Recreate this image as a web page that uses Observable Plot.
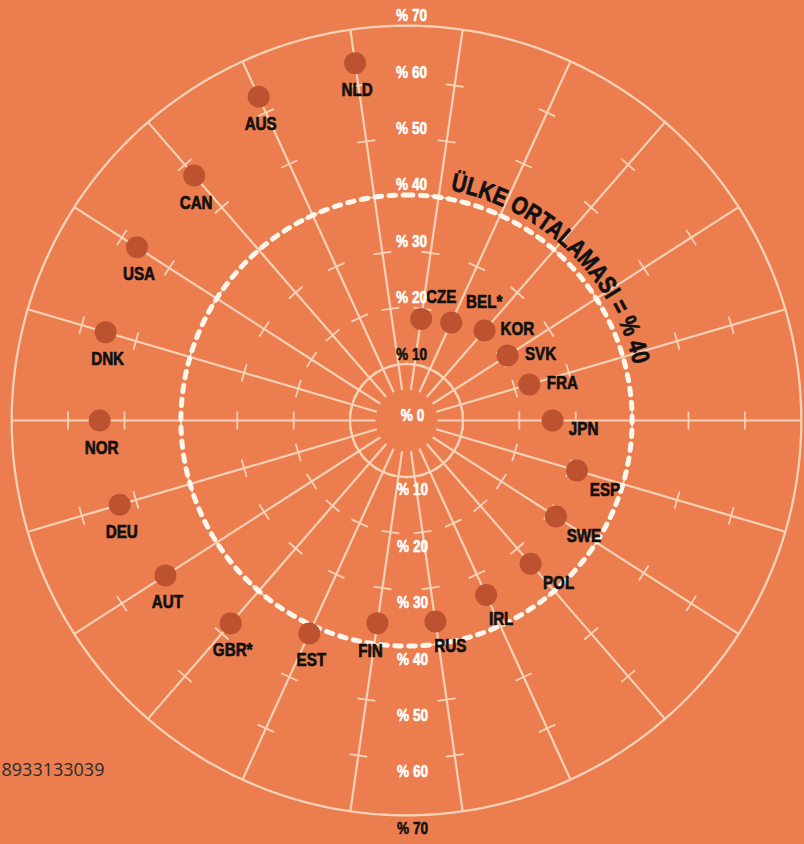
<!DOCTYPE html>
<html>
<head>
<meta charset="utf-8">
<script src="https://cdn.jsdelivr.net/npm/d3@7"></script>
<script src="https://cdn.jsdelivr.net/npm/@observablehq/plot@0.6"></script>
<style>
  html, body { margin: 0; padding: 0; background: #ec7d4e; }
  #chart svg { display: block; }
</style>
</head>
<body>
<div id="chart"></div>
<script>
// ---- data ----
const countries = ["NLD","AUS","CAN","USA","DNK","NOR","DEU","AUT","GBR*","EST","FIN","RUS","IRL","POL","SWE","ESP","JPN","FRA","SVK","KOR","BEL*","CZE"];
const shares = [64.0,63.1,57.5,56.8,55.6,54.4,53.0,50.8,47.6,41.5,36.3,36.0,34.0,33.6,31.5,31.5,25.9,22.7,21.3,21.1,19.1,18.2];
const scaleTicks = [10,20,30,40,50,60,70];
const averageValue = 40;
const averageLabel = "ÜLKE ORTALAMASI = % 40";
const maxValue = 70;
const sourceNote = "8933133039";

// ---- layout ----
const W = 804, H = 844, CX = 406, CY = 420, K = 5.64;
const bg = "#ec7d4e", lineColor = "#f8d2b6", dotColor = "#bd5230";
const boldFont = "'Liberation Sans', Arial, sans-serif";
const squeeze = 0.8;

const n = countries.length;
const rows = countries.map((c, i) => {
  const a = (i + 0.5) * 2 * Math.PI / n;
  return {country: c, value: shares[i], i, ux: -Math.sin(a), uy: Math.cos(a), px: Math.cos(a), py: Math.sin(a)};
});
const ring = r => d3.range(0, 361, 1).map(a => ({x: r * Math.sin(a * Math.PI / 180), y: r * Math.cos(a * Math.PI / 180)}));
const tickHalf = 9 / K;
const tickRows = rows.flatMap(d => scaleTicks.filter(v => v < maxValue).map(v => ({...d, v})));

const placements = [
  {from: 0, to: 9, dx: 2, dy: 27},
  {from: 10, to: 10, dx: -7, dy: 28},
  {from: 11, to: 12, dx: 15, dy: 24},
  {from: 13, to: 15, dx: 28, dy: 19},
  {from: 16, to: 16, dx: 31, dy: 8},
  {from: 17, to: 19, dx: 33, dy: -2},
  {from: 20, to: 20, dx: 33, dy: -21},
  {from: 21, to: 21, dx: 20, dy: -22}
];

const fmt = v => `% ${v}`;
const topLabels = scaleTicks.map(v => ({v, dark: v === 10}));
const bottomLabels = scaleTicks.map(v => ({v, dark: v === 70}));
const ink = "#111";

const chart = Plot.plot({
  width: W, height: H, margin: 0,
  x: {domain: [-CX / K, (W - CX) / K], range: [0, W], axis: null},
  y: {domain: [-(H - CY) / K, CY / K], range: [H, 0], axis: null},
  color: {type: "identity"},
  style: {background: bg, overflow: "visible"},
  marks: [
    Plot.line(ring(maxValue), {x: "x", y: "y", stroke: lineColor, strokeWidth: 2.3}),
    Plot.line(ring(10), {x: "x", y: "y", stroke: lineColor, strokeWidth: 2.3}),
    Plot.link(rows, {x1: d => 5.5 * d.ux, y1: d => 5.5 * d.uy, x2: d => maxValue * d.ux, y2: d => maxValue * d.uy, stroke: lineColor, strokeWidth: 2.2}),
    Plot.link(tickRows, {
      x1: d => d.v * d.ux - tickHalf * d.px, y1: d => d.v * d.uy - tickHalf * d.py,
      x2: d => d.v * d.ux + tickHalf * d.px, y2: d => d.v * d.uy + tickHalf * d.py,
      stroke: lineColor, strokeWidth: 1.8
    }),
    Plot.line(ring(averageValue), {x: "x", y: "y", stroke: "#fff7ec", strokeWidth: 5, strokeDasharray: "6.5,7.5"}),
    Plot.dot(rows, {x: d => d.value * d.ux, y: d => d.value * d.uy, r: 11, fill: dotColor}),
    ...placements.map(p => Plot.text(rows.filter(d => d.i >= p.from && d.i <= p.to), {
      x: d => d.value * d.ux, y: d => d.value * d.uy, text: "country",
      dx: p.dx, dy: p.dy, fontSize: 19, fontWeight: "bold", fontFamily: boldFont,
      fill: ink, stroke: ink, strokeWidth: 0.7
    })),
    Plot.text(topLabels, {x: 0, y: d => d.v, text: d => fmt(d.v), dx: 5, dy: -10,
      fill: d => d.dark ? ink : "#ffffff", stroke: d => d.dark ? ink : "#ffffff", strokeWidth: 0.6,
      fontSize: 17, fontWeight: "bold", fontFamily: boldFont}),
    Plot.text(bottomLabels, {x: 0, y: d => -d.v, text: d => fmt(d.v), dx: 6, dy: 13,
      fill: d => d.dark ? ink : "#ffffff", stroke: d => d.dark ? ink : "#ffffff", strokeWidth: 0.6,
      fontSize: 17, fontWeight: "bold", fontFamily: boldFont}),
    Plot.text([0], {x: 0, y: 0, text: d => fmt(d), dx: 6, dy: -5, fill: "#ffffff", stroke: "#ffffff", strokeWidth: 0.6,
      fontSize: 17, fontWeight: "bold", fontFamily: boldFont}),
    Plot.text([sourceNote], {frameAnchor: "bottom-left", text: d => d, dx: 1, dy: -69, textAnchor: "start", fontSize: 18, fill: "#2b2b2b", fontFamily: "'Open Sans', sans-serif"})
  ]
});

const svg = d3.select(chart);

// narrow (condensed) look for the bold labels
svg.selectAll("text").each(function() {
  if (this.textContent === sourceNote) return;
  const t = this.getAttribute("transform");
  if (t) {
    this.setAttribute("transform", `${t} scale(${squeeze},1)`);
  } else {
    const x = +(this.getAttribute("x") || 0), y = +(this.getAttribute("y") || 0);
    this.removeAttribute("x"); this.removeAttribute("y");
    this.setAttribute("transform", `translate(${x},${y}) scale(${squeeze},1)`);
  }
});

// curved average label along the dashed ring
const xs = chart.scale("x"), ys = chart.scale("y");
const cx = xs.apply(0), cy = ys.apply(0), R = xs.apply(averageValue + 1.5) - cx;
const a0 = 10.9 * Math.PI / 180, a1 = 76.4 * Math.PI / 180;
const p0 = [cx + R * Math.sin(a0), cy - R * Math.cos(a0)];
const p1 = [cx + R * Math.sin(a1), cy - R * Math.cos(a1)];
const arcLen = R * (a1 - a0);
svg.append("defs").append("path").attr("id", "avgArc")
  .attr("d", `M${p0[0]},${p0[1]} A${R},${R} 0 0 1 ${p1[0]},${p1[1]}`);
const curved = svg.append("text")
  .attr("text-anchor", "start")
  .attr("font-family", boldFont).attr("font-weight", "bold").attr("font-size", 25)
  .attr("fill", ink).attr("stroke", ink).attr("stroke-width", 0.7)
  .attr("textLength", arcLen).attr("lengthAdjust", "spacingAndGlyphs");
curved.append("textPath").attr("href", "#avgArc").attr("startOffset", 0)
  .attr("textLength", arcLen).attr("lengthAdjust", "spacingAndGlyphs")
  .text(averageLabel);

document.getElementById("chart").append(chart);
</script>
</body>
</html>
